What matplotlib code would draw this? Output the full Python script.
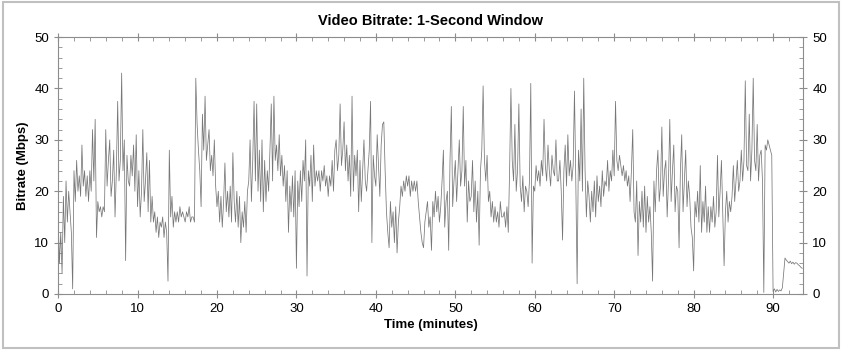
import numpy as np
import matplotlib

matplotlib.use("Agg")
import matplotlib.pyplot as plt
from matplotlib.patches import Rectangle
from matplotlib.ticker import MultipleLocator

plt.rcParams["font.family"] = ["Liberation Sans", "DejaVu Sans"]

# -- Data ---------------------------------------------------------------------
# bitrate (Mbps), 6 samples per minute (10 s step)
STEP_MIN = 1 / 6
BITRATE_00_09 = [
    15, 6, 12, 4, 19, 10,     22, 14, 20, 16, 12, 1,     24, 18, 26, 20, 23, 19,
    29, 21, 24, 19, 23, 18,   24, 20, 32, 22, 34, 11,    18, 16, 17, 15, 17, 16,
    32, 21, 26, 30, 19, 22,   28, 15, 24, 37.5, 22, 26,  43, 24, 30, 6.5, 27, 22,
    21, 27, 23, 29, 20, 31,
]
BITRATE_10_19 = [
    17, 24, 15, 20, 32, 18,   22, 27.5, 16, 26, 14, 19,  14, 16, 12, 15, 11, 14,
    13, 15, 11, 14, 12, 2.5,  28, 15, 19, 13, 16, 14,    16, 14, 17, 15, 16, 15,
    14, 16, 15, 17, 14, 15,   15, 14, 42, 33, 28, 24,    17, 35, 28, 38.5, 26, 29,
    32, 24, 27, 23, 30, 21,
]
BITRATE_20_29 = [
    17, 20, 14, 19, 13, 18,   25.5, 16, 20, 15, 21, 14,  27.5, 18, 14, 20, 13, 19,
    10, 16, 13, 18, 12, 20,   22, 30, 18, 26, 37.5, 22,  37, 20, 28, 18, 30, 16,
    26, 18, 24, 20, 28, 37,   22, 38.5, 26, 29, 24, 31,  23, 27, 21, 25, 18, 24,
    12, 21, 16, 23, 15, 24,
]
BITRATE_30_39 = [
    5, 22, 17, 24, 18, 26,    22, 30, 3.5, 24, 21, 27,   18, 29, 21, 24, 22, 24,
    20, 24, 22, 25, 21, 23,   19, 23, 21, 26, 20, 28,    30, 24, 27, 37, 25, 28,
    33.5, 24, 29, 22, 27, 19, 38.5, 20, 27, 23, 28, 16,  26, 18, 24, 30, 22, 20,
    24, 28, 37.5, 10, 27, 23,
]
BITRATE_40_49 = [
    21, 31, 25, 19, 29, 33,   33.5, 24, 16, 12, 9, 18,   13, 16, 10, 17, 8, 14,
    17, 21, 19, 22, 20, 23,   21, 23, 19, 22, 20, 22,    20, 22, 18, 15, 12, 10,
    9, 14, 16, 18, 13, 15,    8.5, 18, 15, 20, 16, 19,   14, 17, 22, 28, 13, 18,
    20, 8.5, 26, 36.5, 17, 22,
]
BITRATE_50_59 = [
    26, 18, 24, 30, 21, 24,   36.5, 21, 26, 14, 22, 18,  19, 26, 16, 22, 14, 20,
    9.5, 24, 28, 40.5, 26, 22, 27, 18, 20, 15, 18, 14,   17, 14, 16, 13, 18, 15,
    15, 16, 13, 17, 12, 24,   40, 26, 22, 33, 20, 24,    37, 21, 18, 23, 16, 21,
    20, 17, 22, 41, 6, 21,
]
BITRATE_60_69 = [
    20, 25, 22, 24, 21, 26,   23, 34, 25, 22, 29, 24,    21, 27, 24, 23, 30, 22,
    22, 26, 20, 10.5, 24, 29, 21, 31, 23, 26, 22, 25,    39.5, 22, 2, 28, 22, 36,
    20, 42, 24, 15, 22, 19,   14, 20, 16, 22, 15, 23,    18, 21, 17, 24, 19, 22,
    21, 26, 20, 24, 22, 28,
]
BITRATE_70_79 = [
    23, 37.5, 26, 24, 27, 25, 23, 25, 22, 24, 21, 23,    18, 24, 32, 16, 14, 22,
    7.5, 18, 14, 20, 13, 21,  12, 19, 14, 17, 12, 2.5,   22, 16, 24, 28, 18, 21,
    32.5, 19, 24, 26, 15, 22, 34, 18, 24, 29, 16, 21,    20, 9, 24, 31, 16, 22,
    28, 17, 22, 19, 13, 11,
]
BITRATE_80_93 = [
    4.5, 18, 15, 20, 14, 25,  12, 18, 14, 21, 12, 17,    12, 17, 14, 19, 13, 16,
    27, 15, 20, 26, 16, 5.5,  16, 20, 14, 18, 16, 19,    25, 18, 22, 26, 20, 22,
    28, 22, 26, 41.5, 25, 24, 35, 22, 28, 42, 26, 24,    33, 22, 27, 28, 22, 0.3,
    29, 28, 30, 29, 28, 27,   0.5, 1, 0.4, 0.9, 0.5, 0.8, 0.6, 1.2, 4, 7, 6.6, 6.3,
    6, 6.4, 5.9, 6.2, 5.8, 6.1, 6, 5.7, 5.5, 5.2, 5.0,
]

X_TICKS = [0, 10, 20, 30, 40, 50, 60, 70, 80, 90]
Y_TICKS = [0, 10, 20, 30, 40, 50]

bitrate = np.array(BITRATE_00_09 + BITRATE_10_19 + BITRATE_20_29 + BITRATE_30_39
                   + BITRATE_40_49 + BITRATE_50_59 + BITRATE_60_69 + BITRATE_70_79
                   + BITRATE_80_93)
minutes = np.arange(len(bitrate)) * STEP_MIN

# -- Plot ---------------------------------------------------------------------
fig = plt.figure(figsize=(8.42, 3.5), dpi=100)
ax = fig.add_axes([0.069, 0.16, 0.885, 0.734])

ax.plot(minutes, bitrate, color="#777777", linewidth=0.55)

ax.set_xlim(0, 93.8)
ax.set_ylim(0, 50)
ax.set_xticks(X_TICKS)
ax.set_yticks(Y_TICKS)
ax.xaxis.set_minor_locator(MultipleLocator(2))
ax.yaxis.set_minor_locator(MultipleLocator(2))

for s in ax.spines.values():
    s.set_color("#8c8c8c")
    s.set_linewidth(0.8)
ax.tick_params(which="both", top=True, right=True, labelright=True,
               colors="#8c8c8c", labelcolor="black", labelsize=9.5)
ax.tick_params(which="major", direction="inout", length=6, width=0.8)
ax.tick_params(which="minor", direction="in", length=3, width=0.6)

ax.set_title("Video Bitrate: 1-Second Window", fontsize=10.5,
             fontweight="bold", pad=9)
ax.set_xlabel("Time (minutes)", fontsize=9.5, fontweight="bold", labelpad=3)
ax.set_ylabel("Bitrate (Mbps)", fontsize=9.5, fontweight="bold", labelpad=4)

# light frame round the whole picture
fig.patches.append(Rectangle((0.003, 0.006), 0.994, 0.988, transform=fig.transFigure,
                             fill=False, edgecolor="#c0c0c0", linewidth=1.5))

fig.savefig("out.png", dpi=100)
plt.close(fig)
